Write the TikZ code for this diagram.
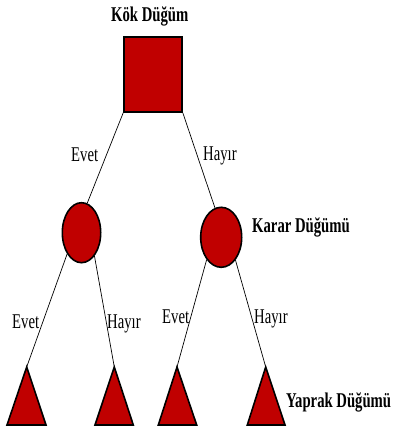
\documentclass[tikz,border=0pt]{standalone}
\usepackage{fontspec}
\setmainfont{Liberation Serif}
\usetikzlibrary{shapes.geometric}
\definecolor{nodered}{RGB}{192,0,0}
\newcommand{\narrowtxt}[1]{\scalebox{0.7}[1]{#1}}
\begin{document}
\begin{tikzpicture}[x=1pt,y=-1pt,
  shapebox/.style={draw=black, fill=nodered, line width=1.6pt, inner sep=0pt, line join=miter},
  conn/.style={draw=black, line width=0.7pt},
  lbl/.style={inner sep=0pt, anchor=base west, font=\fontsize{21}{21}\selectfont},
  blbl/.style={inner sep=0pt, anchor=base west, font=\fontsize{21}{21}\selectfont\bfseries}]
\useasboundingbox (0,0) rectangle (394,430);
% root
\node[shapebox, rectangle, minimum width=58pt, minimum height=75pt] (K) at (153,74.5) {};
% decision nodes
\node[shapebox, ellipse, minimum width=38.4pt, minimum height=60pt] (L) at (81.5,232.7) {};
\node[shapebox, ellipse, minimum width=41pt, minimum height=60pt] (R) at (221.2,237.3) {};
% leaves
\coordinate (T1) at (26.7,367);
\coordinate (T2) at (114.3,367);
\coordinate (T3) at (177,367);
\coordinate (T4) at (265.7,367);
\draw[shapebox] (T1) -- (46,425) -- (7,425) -- cycle;
\draw[shapebox] (T2) -- (133.3,425) -- (95,425) -- cycle;
\draw[shapebox] (T3) -- (196.7,425) -- (158.3,425) -- cycle;
\draw[shapebox] (T4) -- (285,425) -- (247.3,425) -- cycle;
% connectors
\draw[conn] (K.south west) -- (L.79);
\draw[conn] (K.south east) -- (R.102);
\draw[conn] (L.236) -- (T1);
\draw[conn] (L.299) -- (T2);
\draw[conn] (R.237) -- (T3);
\draw[conn] (R.302) -- (T4);
% labels
\node[blbl] (t0) at (111,22) {\narrowtxt{Kök Düğüm}};
\node[blbl] (t1) at (252,232) {\narrowtxt{Karar Düğümü}};
\node[blbl] (t2) at (286,407) {\narrowtxt{Yaprak Düğümü}};
\node[lbl] (e0) at (71,162) {\narrowtxt{Evet}};
\node[lbl] (h0) at (203,161) {\narrowtxt{Hayır}};
\node[lbl] (e1) at (12,328) {\narrowtxt{Evet}};
\node[lbl] (h1) at (107,328) {\narrowtxt{Hayır}};
\node[lbl] (e2) at (162,323) {\narrowtxt{Evet}};
\node[lbl] (h2) at (254,323) {\narrowtxt{Hayır}};
\end{tikzpicture}
\end{document}
